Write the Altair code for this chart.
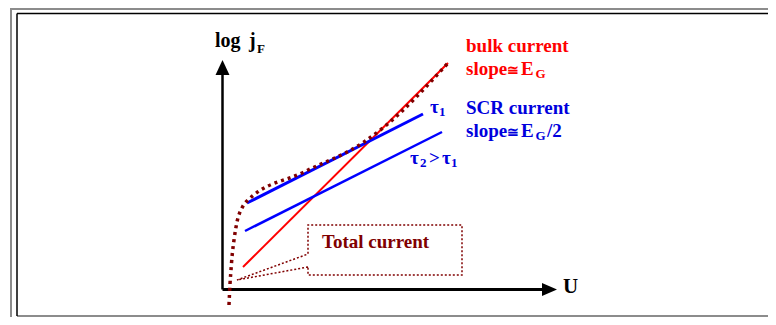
import altair as alt
import pandas as pd

# ---- data (arbitrary units: U horizontal, log jF vertical) ----
red_u = [1.9, 22.4]
red_v = [2.3, 22.7]
tau1_u = [2.3, 19.9]
tau1_v = [8.7, 17.6]
tau2_u = [2.1, 21.8]
tau2_v = [5.9, 15.8]
total_u = [0.5, 0.6, 0.7, 0.8, 1.0, 1.3, 1.8, 2.3, 8.0, 14.0, 16.0, 22.4]
total_v = [-1.5, 0.6, 2.0, 3.3, 5.0, 6.8, 8.2, 8.9, 11.8, 14.8, 16.3, 22.7]
box_u = [8.4, 1.3, 8.4, 8.4, 23.8, 23.8, 8.4, 8.4]
box_v = [2.3, 1.0, 3.6, 6.5, 6.5, 1.5, 1.5, 2.3]

yaxis_u = [-0.15, -0.15]
yaxis_v = [0.05, 21.6]
xaxis_u = [-0.15, 31.9]
xaxis_v = [0.05, 0.05]
yarrow = (-0.15, 22.25)
xarrow = (32.55, 0.05)

label_text = ["log", "j", "F", "bulk current", "slope", "E", "G", "SCR current",
              "slope", "E", "G", "/2", "\u03c4", "1", "\u03c4", "2", ">", "\u03c4", "1",
              "Total current", "U"]
label_u = [-0.9, 2.5, 3.3, 24.2, 24.2, 29.7, 31.15, 24.2, 24.2, 29.7, 31.15, 32.3, 20.6, 21.5,
           18.6, 19.6, 20.5, 21.8, 22.7, 9.8, 33.9]
label_v = [24.3, 24.3, 23.7, 23.8, 21.5, 21.5, 21.2, 17.6, 15.3, 15.3, 15.0, 15.3, 17.7, 17.4,
           12.6, 12.3, 12.6, 12.6, 12.3, 4.2, -0.3]
label_size = [20, 20, 13, 19, 19, 19, 13, 19, 19, 19, 13, 19, 19, 13, 19, 13, 19, 19, 13, 19, 21]
RED = "#ff0000"
BLUE = "#0000ff"
TBLUE = "#0000dd"
DRED = "#800000"
label_color = ["#000000", "#000000", "#000000", RED, RED, RED, RED, TBLUE, TBLUE, TBLUE, TBLUE,
               TBLUE, TBLUE, TBLUE, TBLUE, TBLUE, TBLUE, TBLUE, TBLUE, DRED, "#000000"]

# approximately-equal signs
cong_text = ["\u2245", "\u2245"]
cong_u = [28.25, 28.25]
cong_v = [21.5, 15.3]
cong_color = [RED, TBLUE]

W, H = 760, 309
xscale = alt.Scale(domain=[-21.6, 54.4], nice=False, zero=False)
yscale = alt.Scale(domain=[-2.7, 28.2], nice=False, zero=False)
X = alt.X("u:Q", scale=xscale, axis=None)
Y = alt.Y("v:Q", scale=yscale, axis=None)


def line_df(us, vs):
    return pd.DataFrame({"u": us, "v": vs, "i": list(range(len(us)))})


def line_layer(us, vs, color, width, dash=None, cap="butt"):
    kw = dict(color=color, strokeWidth=width, strokeCap=cap)
    if dash:
        kw["strokeDash"] = dash
    return alt.Chart(line_df(us, vs)).mark_line(**kw).encode(x=X, y=Y, order="i:Q")


one = pd.DataFrame({"a": [0]})
layers = []
# frame
GRAY = "#8c8c8c"
layers.append(alt.Chart(one).mark_rule(color=GRAY, strokeWidth=2).encode(
    x=alt.value(2), x2=alt.value(W), y=alt.value(1)))
layers.append(alt.Chart(one).mark_rule(color=GRAY, strokeWidth=2).encode(
    x=alt.value(3), y=alt.value(0), y2=alt.value(H)))
layers.append(alt.Chart(one).mark_rule(color=GRAY, strokeWidth=2).encode(
    x=alt.value(9), x2=alt.value(W), y=alt.value(H - 1)))
layers.append(alt.Chart(one).mark_rule(color="#000000", strokeWidth=1.5).encode(
    x=alt.value(9), x2=alt.value(W), y=alt.value(5.5)))
layers.append(alt.Chart(one).mark_rule(color="#000000", strokeWidth=1.5).encode(
    x=alt.value(9), y=alt.value(5.5), y2=alt.value(H - 1)))

# axes with arrows
layers.append(line_layer(yaxis_u, yaxis_v, "#000000", 2.5))
layers.append(line_layer(xaxis_u, xaxis_v, "#000000", 3))
layers.append(alt.Chart(pd.DataFrame({"u": [yarrow[0]], "v": [yarrow[1]]})).mark_point(
    shape="M0,-1L0.93,1L-0.93,1Z", size=225, filled=True, color="#000000", opacity=1,
    strokeWidth=0).encode(x=X, y=Y))
layers.append(alt.Chart(pd.DataFrame({"u": [xarrow[0]], "v": [xarrow[1]]})).mark_point(
    shape="M1,0L-1,0.87L-1,-0.87Z", size=225, filled=True, color="#000000", opacity=1,
    strokeWidth=0).encode(x=X, y=Y))

# current lines
layers.append(line_layer(red_u, red_v, RED, 2))
layers.append(line_layer(tau1_u, tau1_v, BLUE, 3))
layers.append(line_layer(tau2_u, tau2_v, BLUE, 2.5))
layers.append(alt.Chart(line_df(total_u, total_v)).mark_line(
    color=DRED, strokeWidth=3.5, strokeDash=[3, 4], interpolate="monotone").encode(
    x=X, y=Y, order="i:Q"))

# callout box
layers.append(line_layer(box_u, box_v, DRED, 1.5, dash=[2, 2]))

# labels
labels = pd.DataFrame({"u": label_u, "v": label_v, "t": label_text,
                       "s": label_size, "c": label_color})
layers.append(alt.Chart(labels).mark_text(
    font="Liberation Serif", fontWeight="bold", align="left", baseline="alphabetic").encode(
    x=X, y=Y, text="t:N",
    size=alt.Size("s:Q", scale=None, legend=None),
    color=alt.Color("c:N", scale=None, legend=None)))

congs = pd.DataFrame({"u": cong_u, "v": cong_v, "t": cong_text, "c": cong_color})
layers.append(alt.Chart(congs).mark_text(
    font="DejaVu Serif", fontWeight="bold", fontSize=14, align="left",
    baseline="alphabetic").encode(
    x=X, y=Y, text="t:N", color=alt.Color("c:N", scale=None, legend=None)))

chart = alt.layer(*layers).properties(
    width=W, height=H, autosize=alt.AutoSizeParams(type="none"), padding=0
).configure_view(stroke=None)

chart.save("out.html", embed_options={"renderer": "svg", "actions": False})
